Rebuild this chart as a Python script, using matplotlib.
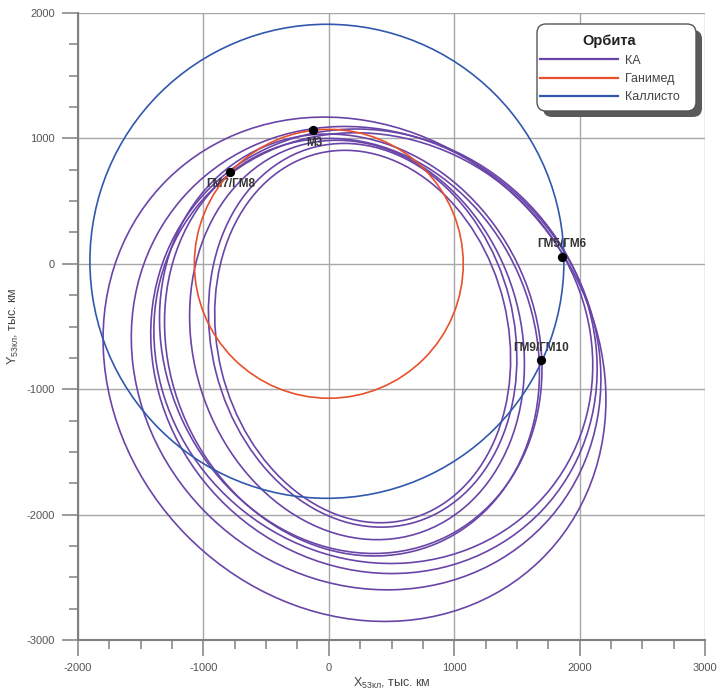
import matplotlib
matplotlib.use("Agg")
import numpy as np
import matplotlib.pyplot as plt
from matplotlib.patches import Ellipse, Circle, FancyBboxPatch
from matplotlib.lines import Line2D
from matplotlib.ticker import MultipleLocator

plt.rcParams['font.family'] = ['Liberation Sans', 'DejaVu Sans']
plt.rcParams['mathtext.fontset'] = 'custom'
plt.rcParams['mathtext.rm'] = 'Liberation Sans'
plt.rcParams['axes.unicode_minus'] = False

# --- data (thousand km) ---
# spacecraft (KA) orbits, read as ellipse extents: left, right, top, bottom,
# plus the x-y skew (correlation) of each ellipse
ka_left = [-1800, -1575, -1420, -1395, -1350, -1310, -1110, -960, -910]
ka_right = [2210, 2170, 2140, 2105, 1700, 1680, 1560, 1500, 1450]
ka_top = [1170, 1095, 1075, 1045, 1035, 1000, 985, 960, 905]
ka_bottom = [-2852, -2600, -2470, -2390, -2310, -2330, -2200, -2100, -2065]
ka_skew = [-0.12, -0.09, -0.08, -0.08, -0.12, -0.12, -0.12, -0.12, -0.12]

ganymede_c = (0, 0)
ganymede_r = 1072
callisto_c = (-15, 20)
callisto_r = 1890

event_names = ['М3', 'ГМ7/ГМ8', 'ГМ5/ГМ6', 'ГМ9/ГМ10']
event_x = [-127, -791, 1860, 1692]
event_y = [1068, 736, 58, -771]
label_above = [False, False, True, True]

legend_title = 'Орбита'
legend_labels = ['КА', 'Ганимед', 'Каллисто']

c_ka = '#6a45a8'
c_gan = '#e8502a'
c_cal = '#3158ad'

fig = plt.figure(figsize=(7.18, 6.95), dpi=100)
ax = fig.add_axes([78/718, 55/695, 627/718, 627/695])
ax.set_xlim(-2000, 3000)
ax.set_ylim(-3000, 2000)

for L, R, T, B, r in zip(ka_left, ka_right, ka_top, ka_bottom, ka_skew):
    cx, cy = (L + R) / 2, (T + B) / 2
    X, Y = (R - L) / 2, (T - B) / 2
    cov = np.array([[X * X, r * X * Y], [r * X * Y, Y * Y]])
    vals, vecs = np.linalg.eigh(cov)
    ang = np.degrees(np.arctan2(vecs[1, 1], vecs[0, 1]))
    ax.add_patch(Ellipse((cx, cy), 2 * np.sqrt(vals[1]), 2 * np.sqrt(vals[0]), angle=ang,
                         fill=False, edgecolor=c_ka, lw=1.2, zorder=3))
ax.add_patch(Circle(ganymede_c, ganymede_r, fill=False, edgecolor=c_gan, lw=1.2, zorder=4))
ax.add_patch(Circle(callisto_c, callisto_r, fill=False, edgecolor=c_cal, lw=1.2, zorder=4))

ax.scatter(event_x, event_y, s=32, color='black', zorder=6)
for n, x, y, up in zip(event_names, event_x, event_y, label_above):
    if up:
        ax.annotate(n, (x, y), xytext=(0, 4.5), textcoords='offset points',
                    ha='center', va='bottom', fontsize=8.5, fontweight='bold', color='#333333')
    else:
        ax.annotate(n, (x, y), xytext=(1, -5), textcoords='offset points',
                    ha='center', va='top', fontsize=8.5, fontweight='bold', color='#333333')

ax.xaxis.set_major_locator(MultipleLocator(1000))
ax.yaxis.set_major_locator(MultipleLocator(1000))
ax.xaxis.set_minor_locator(MultipleLocator(250))
ax.yaxis.set_minor_locator(MultipleLocator(250))
ax.grid(True, which='major', color='#a8a8a8', lw=1.0)
ax.tick_params(which='major', length=11.5, width=1.1, color='#808080', labelsize=8,
               labelcolor='#555555', pad=5)
ax.tick_params(which='minor', length=6.5, width=1.1, color='#808080')
for s in ['top', 'right']:
    ax.spines[s].set_visible(False)
for s in ['left', 'bottom']:
    ax.spines[s].set_color('#808080')
    ax.spines[s].set_linewidth(1.5)

ax.set_xlabel('X$_{\\mathrm{53кл}}$, тыс. км', fontsize=9, color='#444444', labelpad=2)
ax.set_ylabel('Y$_{\\mathrm{53кл}}$, тыс. км', fontsize=9, color='#444444', labelpad=4)

# legend frame (drawn in figure pixels) with a shadow
W, H = 718, 695
box = (537, H - 111, 159, 87)  # x, y(bottom), w, h in px
shadow = FancyBboxPatch((box[0] + 6, box[1] - 6), box[2], box[3],
                        boxstyle='round,pad=0,rounding_size=9', transform=None,
                        facecolor='#5a5a5a', edgecolor='none', zorder=8)
frame = FancyBboxPatch((box[0], box[1]), box[2], box[3],
                       boxstyle='round,pad=0,rounding_size=9', transform=None,
                       facecolor='white', edgecolor='#555555', lw=1.0, zorder=9)
fig.patches.extend([shadow, frame])

handles = [Line2D([], [], color=c, lw=1.6) for c in (c_ka, c_gan, c_cal)]
leg = fig.legend(handles, legend_labels, title=legend_title, loc='upper left',
                 bbox_to_anchor=(537/W, 1 - 32/H), fontsize=9, frameon=False,
                 handlelength=6.3, handletextpad=0.5, borderpad=0.2,
                 labelspacing=0.5, borderaxespad=0)
leg.set_zorder(10)
leg.get_title().set_fontweight('bold')
leg.get_title().set_fontsize(10.5)
leg.get_title().set_color('#222222')
for t in leg.get_texts():
    t.set_color('#444444')

fig.savefig('out.png', dpi=100)
